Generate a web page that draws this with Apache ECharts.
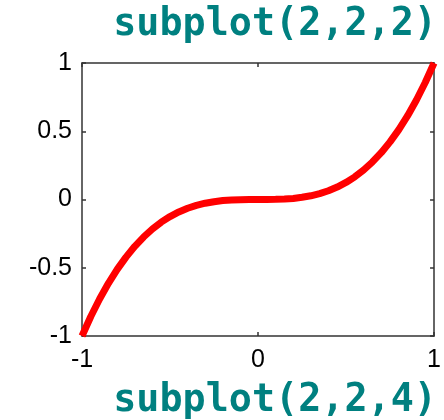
<!DOCTYPE html>
<html>
<head>
<meta charset="utf-8">
<script src="https://cdn.jsdelivr.net/npm/echarts@6/dist/echarts.min.js"></script>
<style>html,body{margin:0;padding:0;background:#fff}#c{width:444px;height:420px}</style>
</head>
<body>
<div id="c"></div>
<script>
const xValues = [-1,-0.95,-0.9,-0.85,-0.8,-0.75,-0.7,-0.65,-0.6,-0.55,-0.5,-0.45,-0.4,-0.35,-0.3,-0.25,-0.2,-0.15,-0.1,-0.05,0,0.05,0.1,0.15,0.2,0.25,0.3,0.35,0.4,0.45,0.5,0.55,0.6,0.65,0.7,0.75,0.8,0.85,0.9,0.95,1];
const yValues = [-1,-0.857,-0.729,-0.614,-0.512,-0.422,-0.343,-0.275,-0.216,-0.166,-0.125,-0.091,-0.064,-0.043,-0.027,-0.016,-0.008,-0.003,-0.001,0,0,0,0.001,0.003,0.008,0.016,0.027,0.043,0.064,0.091,0.125,0.166,0.216,0.275,0.343,0.422,0.512,0.614,0.729,0.857,1];
const titleTop = 'subplot(2,2,2)';
const titleBottom = 'subplot(2,2,4)';

const chart = echarts.init(document.getElementById('c'), null, {renderer: 'canvas'});
const axisColor = '#333333';
const labelStyle = {color: '#000', fontFamily: '"Liberation Sans", Arial, sans-serif', fontSize: 25};
const baseAxis = {
  axisLine: {show: true, onZero: false, lineStyle: {color: axisColor, width: 1.5}},
  axisTick: {show: true, inside: true, length: 4, lineStyle: {color: axisColor, width: 1.5}},
  splitLine: {show: false}
};
const titleFont = 'bold 39px "DejaVu Sans Mono", monospace';
chart.setOption({
  animation: false,
  grid: {left: 82, right: 6, top: 63, bottom: 84},
  xAxis: [
    Object.assign({type: 'value', min: -1, max: 1, interval: 1, position: 'bottom',
      axisLabel: Object.assign({margin: 12, showMinLabel: true, showMaxLabel: true}, labelStyle)}, baseAxis),
    Object.assign({type: 'value', min: -1, max: 1, interval: 1, position: 'top', axisLabel: {show: false}}, baseAxis)
  ],
  yAxis: [
    Object.assign({type: 'value', min: -1, max: 1, interval: 0.5, position: 'left',
      axisLabel: Object.assign({margin: 10, showMinLabel: true, showMaxLabel: true}, labelStyle)}, baseAxis),
    Object.assign({type: 'value', min: -1, max: 1, interval: 0.5, position: 'right', axisLabel: {show: false}}, baseAxis)
  ],
  series: [{
    type: 'line',
    data: xValues.map((x, i) => [x, yValues[i]]),
    showSymbol: false,
    lineStyle: {color: '#ff0000', width: 7},
    clip: false
  }],
  graphic: [
    {type: 'text', x: 437, y: 25, scaleX: 0.985,
      style: {text: titleTop, font: titleFont, fill: '#008080', textAlign: 'right', textVerticalAlign: 'middle'}},
    {type: 'text', x: 437, y: 401, scaleX: 0.985,
      style: {text: titleBottom, font: titleFont, fill: '#008080', textAlign: 'right', textVerticalAlign: 'middle'}}
  ]
});
</script>
</body>
</html>
